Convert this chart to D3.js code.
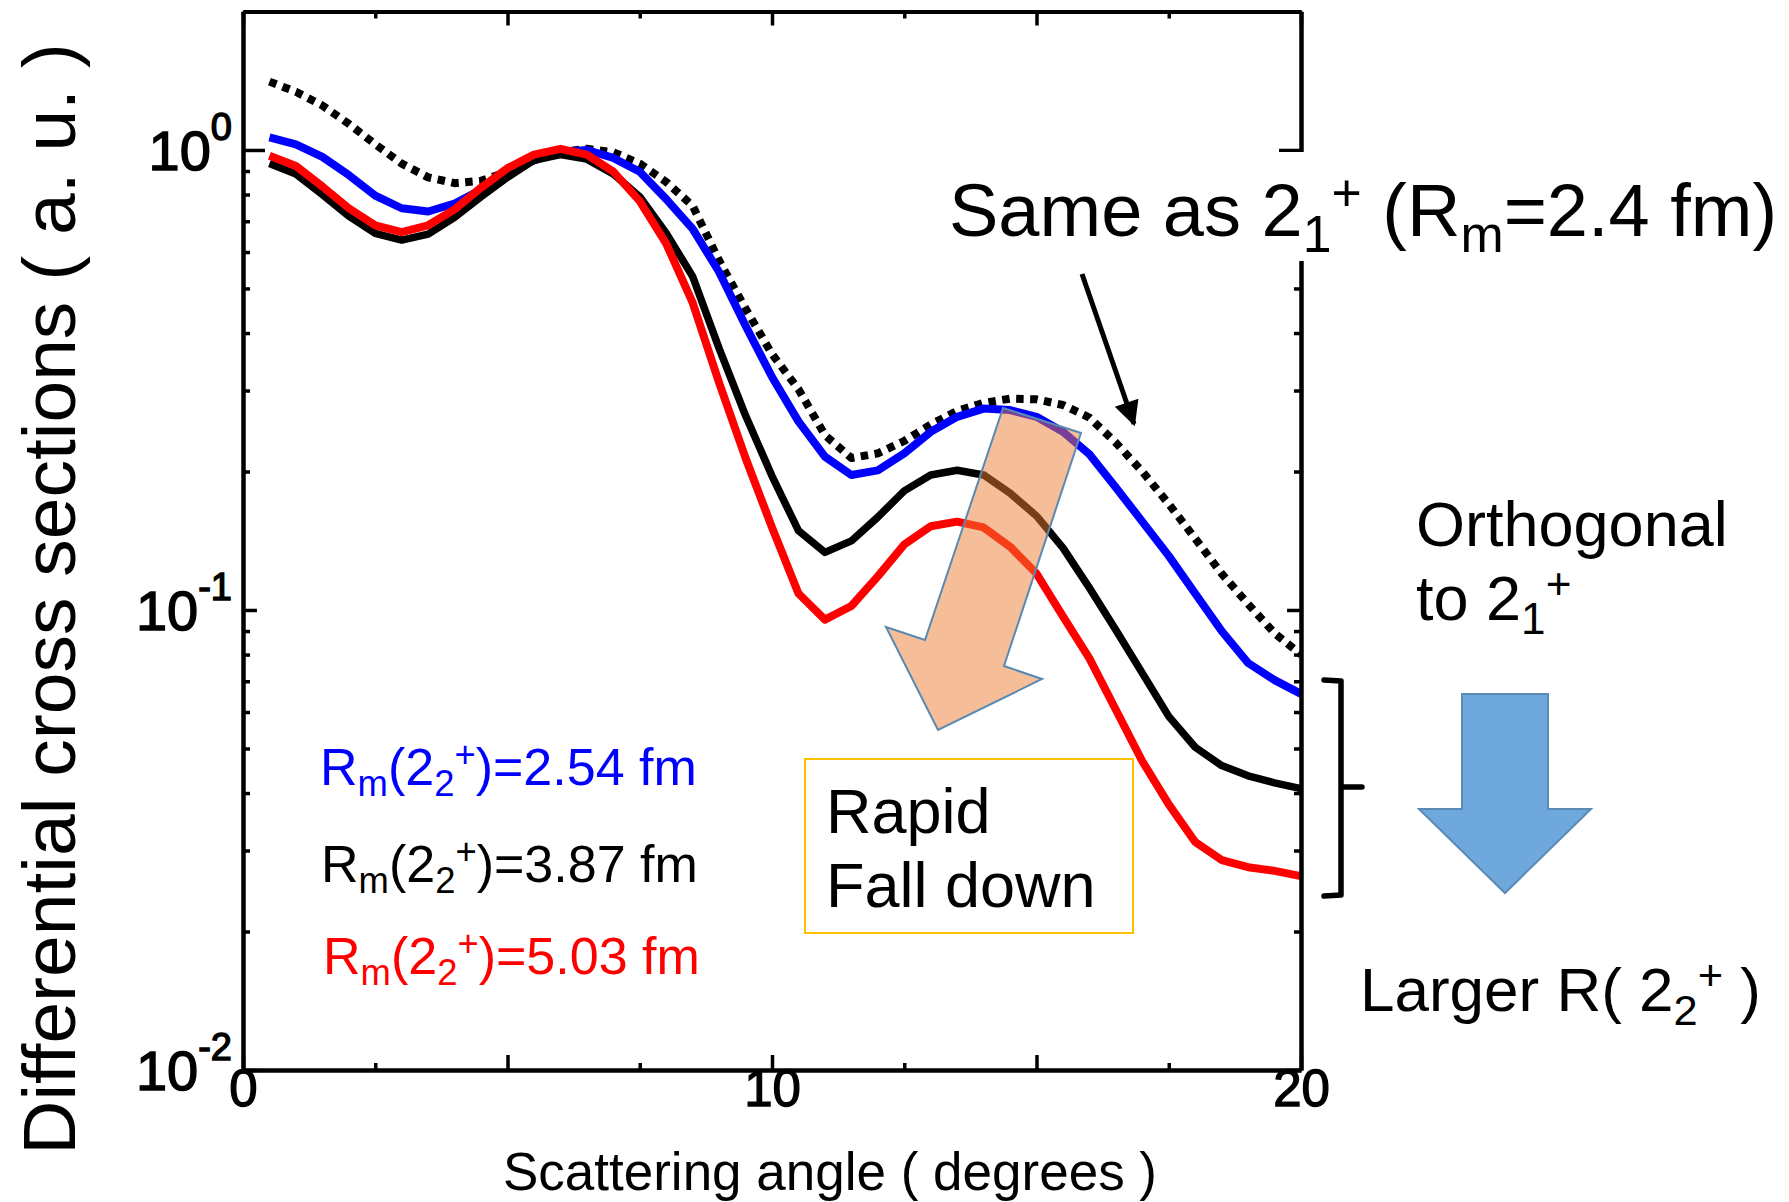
<!DOCTYPE html>
<html>
<head>
<meta charset="utf-8">
<script src="https://cdn.jsdelivr.net/npm/d3@7"></script>
<style>
  body { margin: 0; background: #fff; }
  svg { display: block; font-family: "Liberation Sans", Arial, sans-serif; }
</style>
</head>
<body>
<svg id="chart" width="1789" height="1202"></svg>
<script>
// scattering angle (degrees)
const angles = [0.5, 1, 1.5, 2, 2.5, 3, 3.5, 4, 4.5, 5, 5.5, 6, 6.5, 7, 7.5, 8, 8.5, 9, 9.5, 10,
  10.5, 11, 11.5, 12, 12.5, 13, 13.5, 14, 14.5, 15, 15.5, 16, 16.5, 17, 17.5, 18, 18.5, 19, 19.5, 20];

// same as 2_1+ (dotted)
const sameAs21 = [1.408, 1.338, 1.249, 1.140, 1.029, 0.934, 0.872, 0.847, 0.857, 0.897, 0.950, 0.989, 1.006, 0.989, 0.934, 0.852, 0.756, 0.575, 0.452, 0.360,
  0.302, 0.240, 0.214, 0.219, 0.233, 0.253, 0.271, 0.282, 0.288, 0.287, 0.279, 0.262, 0.231, 0.200, 0.170, 0.143, 0.120, 0.103, 0.089, 0.080];
// Rm(2_2+) = 2.54 fm
const rm254 = [1.065, 1.029, 0.966, 0.882, 0.796, 0.747, 0.735, 0.765, 0.819, 0.887, 0.950, 0.989, 1.000, 0.961, 0.897, 0.782, 0.674, 0.543, 0.415, 0.321,
  0.257, 0.2155, 0.1966, 0.2012, 0.219, 0.244, 0.263, 0.274, 0.272, 0.263, 0.244, 0.218, 0.1847, 0.1556, 0.1311, 0.1086, 0.0900, 0.0767, 0.0704, 0.0657];
// Rm(2_2+) = 3.87 fm
const rm387 = [0.934, 0.887, 0.800, 0.718, 0.659, 0.637, 0.656, 0.714, 0.791, 0.872, 0.950, 0.977, 0.955, 0.887, 0.791, 0.659, 0.531, 0.3705, 0.2647, 0.1955,
  0.1487, 0.1334, 0.1413, 0.1592, 0.1815, 0.1966, 0.2012, 0.1966, 0.1795, 0.1601, 0.1365, 0.1117, 0.0905, 0.0729, 0.0587, 0.0503, 0.0459, 0.0436, 0.0421, 0.0409];
// Rm(2_2+) = 5.03 fm
const rm503 = [0.972, 0.923, 0.833, 0.747, 0.686, 0.663, 0.686, 0.743, 0.828, 0.913, 0.977, 1.006, 0.977, 0.897, 0.774, 0.626, 0.4655, 0.312, 0.214, 0.1512,
  0.1086, 0.0953, 0.1020, 0.1183, 0.1388, 0.1521, 0.1556, 0.1512, 0.1373, 0.120, 0.0969, 0.0785, 0.0607, 0.0469, 0.0378, 0.0313, 0.0286, 0.0276, 0.0271, 0.0264];

const xMajorTicks = [0, 5, 10, 15, 20];
const xMinorTicks = [2.5, 7.5, 12.5, 17.5];
const yMajorTicks = [0.01, 0.1, 1];
const yExponents = ["-2", "-1", "0"];
const yMinorTicks = [0.02, 0.03, 0.04, 0.05, 0.06, 0.07, 0.08, 0.09, 0.2, 0.3, 0.4, 0.5, 0.6, 0.7, 0.8, 0.9];

const svg = d3.select("#chart");
svg.append("rect").attr("width", 1789).attr("height", 1202).attr("fill", "#fff");

const xScale = d3.scaleLinear().domain([0, 20]).range([243, 1301]);
const yScale = d3.scaleLog().domain([0.01, 2]).range([1070, 11.5]);

// rich text with sub / superscripts
function rich(sel, x, y, size, parts, fill) {
  const t = sel.append("text").attr("x", x).attr("y", y)
    .attr("font-size", size).attr("fill", fill || "#000");
  let cur = 0;
  parts.forEach(p => {
    const shift = p[1] === "sub" ? 0.22 * size : p[1] === "sup" ? -0.34 * size : 0;
    const ts = t.append("tspan").text(p[0]);
    if (shift !== cur) ts.attr("dy", shift - cur);
    if (p[1]) ts.attr("font-size", size * 0.7);
    cur = shift;
  });
  return t;
}

// curves
const series = [
  {vals: sameAs21, color: "#000", width: 8, dash: "7.5,6.5"},
  {vals: rm254, color: "#0000ff", width: 8},
  {vals: rm387, color: "#000", width: 7.5},
  {vals: rm503, color: "#ff0000", width: 8}
];
const line = d3.line()
  .x(d => xScale(d[0]))
  .y(d => yScale(d[1]));

series.forEach(s => {
  svg.append("path")
    .datum(angles.map((a, i) => [a, s.vals[i]]))
    .attr("d", line)
    .attr("fill", "none")
    .attr("stroke", s.color)
    .attr("stroke-width", s.width)
    .attr("stroke-linejoin", "round")
    .attr("stroke-dasharray", s.dash || null);
});

// axes
function styleAxis(g) {
  g.attr("font-family", null).attr("font-size", null);
  g.select(".domain").attr("stroke-width", 4);
  g.selectAll(".tick line").attr("stroke-width", 3.5);
}

const yBottom = yScale(0.01), yTop = yScale(2);
const xLeft = xScale(0), xRight = xScale(20);

// bottom
svg.append("g").attr("transform", `translate(0,${yBottom})`)
  .call(d3.axisBottom(xScale).tickValues(xMinorTicks).tickSize(-7).tickSizeOuter(0).tickFormat(""))
  .call(styleAxis);
const gB = svg.append("g").attr("transform", `translate(0,${yBottom})`)
  .call(d3.axisBottom(xScale).tickValues(xMajorTicks).tickSize(-15).tickSizeOuter(0).tickPadding(0)
    .tickFormat(d => d % 10 === 0 ? d : ""))
  .call(styleAxis);
gB.selectAll("text").attr("font-size", 51).attr("fill", "#000")
  .attr("stroke", "#000").attr("stroke-width", 1.3);

// top
svg.append("g").attr("transform", `translate(0,${yTop})`)
  .call(d3.axisTop(xScale).tickValues(xMinorTicks).tickSize(-7).tickSizeOuter(0).tickFormat(""))
  .call(styleAxis);
svg.append("g").attr("transform", `translate(0,${yTop})`)
  .call(d3.axisTop(xScale).tickValues(xMajorTicks).tickSize(-14).tickSizeOuter(0).tickFormat(""))
  .call(styleAxis);

// left
svg.append("g").attr("transform", `translate(${xLeft},0)`)
  .call(d3.axisLeft(yScale).tickValues(yMinorTicks).tickSize(-7).tickSizeOuter(0).tickFormat(""))
  .call(styleAxis);
const gL = svg.append("g").attr("transform", `translate(${xLeft},0)`)
  .call(d3.axisLeft(yScale).tickValues(yMajorTicks).tickSize(-14).tickSizeOuter(0).tickPadding(11).tickFormat(""))
  .call(styleAxis);
gL.selectAll(".tick line").attr("x2", d => d === 1 ? 22 : 14);
gL.selectAll(".tick text").each(function(d, i) {
  const t = d3.select(this)
    .attr("font-family", "'Liberation Sans Narrow', 'Liberation Sans', Arial, sans-serif")
    .attr("font-size", 56).attr("fill", "#000").attr("dy", "0.34em")
    .attr("stroke", "#000").attr("stroke-width", 1.4);
  t.append("tspan").text("10");
  t.append("tspan").attr("dy", -30).attr("font-size", 38).text(yExponents[i]);
});

// right
svg.append("g").attr("transform", `translate(${xRight},0)`)
  .call(d3.axisRight(yScale).tickValues(yMinorTicks).tickSize(-7).tickSizeOuter(0).tickFormat(""))
  .call(styleAxis);
const gR = svg.append("g").attr("transform", `translate(${xRight},0)`)
  .call(d3.axisRight(yScale).tickValues(yMajorTicks).tickSize(-14).tickSizeOuter(0).tickFormat(""))
  .call(styleAxis);
gR.selectAll(".tick line").attr("x2", d => d === 1 ? -22 : -14);

// axis titles
svg.append("text")
  .attr("transform", "translate(75,599) rotate(-90)")
  .attr("text-anchor", "middle")
  .attr("font-size", 75)
  .text("Differential cross sections ( a. u. )");
svg.append("text")
  .attr("x", 830).attr("y", 1190)
  .attr("text-anchor", "middle")
  .attr("font-size", 53)
  .text("Scattering angle ( degrees )");

// "Same as" label on a white box (hides right axis)
svg.append("rect").attr("x", 935).attr("y", 152).attr("width", 854).attr("height", 109).attr("fill", "#fff");
rich(svg, 949, 236, 74, [["Same as 2"], ["1", "sub"], ["+", "sup"], [" (R"], ["m", "sub"], ["=2.4 fm)"]]);

// arrow to dotted curve
svg.append("defs").append("marker")
  .attr("id", "head").attr("viewBox", "0 0 10 10")
  .attr("refX", 9).attr("refY", 5)
  .attr("markerWidth", 6).attr("markerHeight", 5)
  .attr("markerUnits", "strokeWidth")
  .attr("orient", "auto")
  .append("path").attr("d", "M0,0 L10,5 L0,10 Z").attr("fill", "#000");
svg.append("line")
  .attr("x1", 1082).attr("y1", 274).attr("x2", 1134).attr("y2", 424)
  .attr("stroke", "#000").attr("stroke-width", 5)
  .attr("marker-end", "url(#head)");

// orange arrow
svg.append("polygon")
  .attr("points", "1003,408 1081,433 1004,666 1042,679 938,730 886,627 925,640")
  .attr("fill", "#ed7d31").attr("fill-opacity", 0.5)
  .attr("stroke", "#5689b3").attr("stroke-width", 2);

// legend
rich(svg, 320, 785, 52, [["R"], ["m", "sub"], ["(2"], ["2", "sub"], ["+", "sup"], [")=2.54 fm"]], "#0000ff");
rich(svg, 321, 882, 52, [["R"], ["m", "sub"], ["(2"], ["2", "sub"], ["+", "sup"], [")=3.87 fm"]], "#000");
rich(svg, 323, 974, 52, [["R"], ["m", "sub"], ["(2"], ["2", "sub"], ["+", "sup"], [")=5.03 fm"]], "#ff0000");

// Rapid fall down box
svg.append("rect").attr("x", 805).attr("y", 759).attr("width", 328).attr("height", 174)
  .attr("fill", "none").attr("stroke", "#ffc000").attr("stroke-width", 2);
svg.append("text").attr("x", 826).attr("y", 833).attr("font-size", 63).text("Rapid");
svg.append("text").attr("x", 826).attr("y", 907).attr("font-size", 63).text("Fall down");

// bracket
svg.append("path")
  .attr("d", "M1324,680 L1341,681 L1341,895 L1324,896 M1341,787 L1362,787")
  .attr("fill", "none").attr("stroke", "#000").attr("stroke-width", 5.5)
  .attr("stroke-linejoin", "round").attr("stroke-linecap", "round");

// right side notes
svg.append("text").attr("x", 1416).attr("y", 546).attr("font-size", 63).text("Orthogonal");
rich(svg, 1416, 620, 63, [["to 2"], ["1", "sub"], ["+", "sup"]]);

svg.append("polygon")
  .attr("points", "1462,694 1548,694 1548,809 1591,809 1505,893 1419,809 1462,809")
  .attr("fill", "#6fa8dc").attr("stroke", "#5b8ab5").attr("stroke-width", 2);

rich(svg, 1360, 1011, 62, [["Larger R( 2"], ["2", "sub"], ["+", "sup"], [" )"]]);
</script>
</body>
</html>
